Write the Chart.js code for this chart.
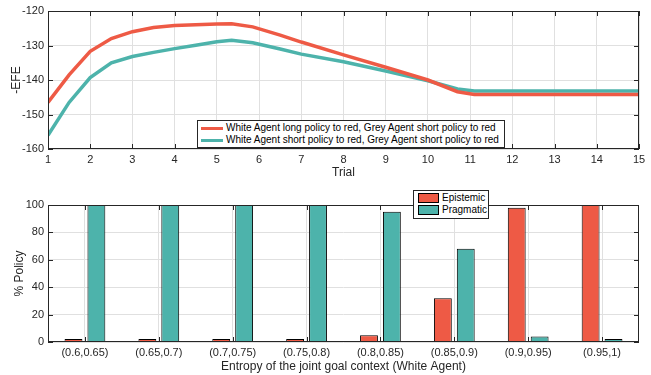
<!DOCTYPE html>
<html>
<head>
<meta charset="utf-8">
<script src="https://cdn.jsdelivr.net/npm/chart.js@4"></script>
<style>
  body { margin: 0; background: #fff; font-family: "Liberation Sans", Arial, sans-serif; }
  #wrap { position: relative; width: 651px; height: 375px; }
  #top { position: absolute; left: 0; top: 0; }
  #bottom { position: absolute; left: 0; top: 185px; }
  .legend { position: absolute; background: #fff; border: 1px solid #262626; font-size: 10px; color: #000; line-height: 12px; }
  .legend div { display: flex; align-items: center; white-space: nowrap; }
  .ln { display: inline-block; width: 22px; height: 3px; margin: 0 3px 0 3px; }
  .sw { display: inline-block; width: 19px; height: 8px; border: 1px solid #000; margin: 0 3px 0 4px; }
</style>
</head>
<body>
<div id="wrap">
  <div id="top"><canvas id="lineChart" width="651" height="185"></canvas></div>
  <div id="bottom"><canvas id="barChart" width="651" height="190"></canvas></div>
  <div class="legend" style="left:197px;top:120px;width:306px;height:25px;padding-top:1px;">
    <div><span class="ln" style="background:#ee5a45"></span>White Agent long policy to red, Grey Agent short policy to red</div>
    <div><span class="ln" style="background:#4db3ab"></span>White Agent short policy to red, Grey Agent short policy to red</div>
  </div>
  <div class="legend" style="left:413px;top:190px;width:74px;height:26px;padding-top:1px;">
    <div><span class="sw" style="background:#ee5a45"></span>Epistemic</div>
    <div><span class="sw" style="background:#4db3ab"></span>Pragmatic</div>
  </div>
</div>
<script>
// top chart data
const trials = [1, 1.5, 2, 2.5, 3, 3.5, 4, 4.5, 5, 5.35, 5.85, 6.5, 7, 8, 9, 10, 10.7, 11.1, 15];
const longPolicy = [-146.5, -138.5, -131.7, -128, -126, -124.8, -124.2, -124, -123.8, -123.7, -124.6, -127, -129, -132.7, -136.3, -140, -143.4, -144.2, -144.2];
const shortPolicy = [-156, -146.5, -139.3, -135, -133.2, -132, -130.9, -129.9, -128.9, -128.5, -129.2, -131, -132.5, -134.7, -137.4, -140.2, -142.6, -143.2, -143.2];

// bottom chart data
const entropyBins = ["(0.6,0.65)", "(0.65,0.7)", "(0.7,0.75)", "(0.75,0.8)", "(0.8,0.85)", "(0.85,0.9)", "(0.9,0.95)", "(0.95,1)"];
const epistemic = [0.6, 0.6, 0.6, 0.6, 5, 32, 98, 100];
const pragmatic = [100, 100, 100, 100, 95, 68, 4, 0.8];

const RED = "#ee5a45";
const TEAL = "#4db3ab";
const AXIS = "#262626";
const GRID = "#e0e0e0";
const font = { family: "'Liberation Sans', Arial, sans-serif", size: 11 };

// MATLAB style box with inward ticks
const boxTicks = {
    id: "boxTicks",
    afterDatasetsDraw(chart) {
        const { ctx, chartArea: a, scales } = chart;
        ctx.save();
        ctx.strokeStyle = AXIS;
        ctx.lineWidth = 1;
        ctx.strokeRect(a.left + 0.5, a.top + 0.5, a.right - a.left - 1, a.bottom - a.top - 1);
        const len = 5;
        scales.x.ticks.forEach((t, i) => {
            const px = Math.round(scales.x.getPixelForTick(i)) + 0.5;
            ctx.beginPath();
            ctx.moveTo(px, a.bottom); ctx.lineTo(px, a.bottom - len);
            ctx.moveTo(px, a.top); ctx.lineTo(px, a.top + len);
            ctx.stroke();
        });
        scales.y.ticks.forEach((t, i) => {
            const py = Math.round(scales.y.getPixelForTick(i)) + 0.5;
            ctx.beginPath();
            ctx.moveTo(a.left, py); ctx.lineTo(a.left + len, py);
            ctx.moveTo(a.right, py); ctx.lineTo(a.right - len, py);
            ctx.stroke();
        });
        ctx.restore();
    }
};

Chart.defaults.animation = false;
Chart.defaults.color = AXIS;

new Chart(document.getElementById("lineChart"), {
    type: "line",
    data: {
        datasets: [
            {
                label: "White Agent long policy to red, Grey Agent short policy to red",
                data: trials.map((t, i) => ({ x: t, y: longPolicy[i] })),
                borderColor: RED,
                borderWidth: 3.5,
                pointRadius: 0,
                tension: 0,
            },
            {
                label: "White Agent short policy to red, Grey Agent short policy to red",
                data: trials.map((t, i) => ({ x: t, y: shortPolicy[i] })),
                borderColor: TEAL,
                borderWidth: 3.5,
                pointRadius: 0,
                tension: 0,
            },
        ],
    },
    options: {
        responsive: false,
        layout: { padding: { left: 9, right: 12, top: 11, bottom: 0 } },
        plugins: { legend: { display: false }, tooltip: { enabled: false } },
        scales: {
            x: {
                type: "linear",
                min: 1,
                max: 15,
                ticks: { stepSize: 1, font, padding: 4, maxRotation: 0 },
                grid: { color: GRID, drawTicks: false },
                border: { display: false },
                title: { display: true, text: "Trial", font: { ...font, size: 12 }, padding: { top: 0, bottom: 5 } },
                afterFit: s => { s.height = 36; },
            },
            y: {
                min: -160,
                max: -120,
                ticks: { stepSize: 10, font, padding: 4 },
                grid: { color: GRID, drawTicks: false },
                border: { display: false },
                title: { display: true, text: "-EFE", font: { ...font, size: 12 }, padding: 0 },
                afterFit: s => { s.width = 39; },
            },
        },
    },
    plugins: [boxTicks],
});

new Chart(document.getElementById("barChart"), {
    type: "bar",
    data: {
        labels: entropyBins,
        datasets: [
            { label: "Epistemic", data: epistemic, backgroundColor: RED, borderColor: "#000", borderWidth: 1, minBarLength: 3 },
            { label: "Pragmatic", data: pragmatic, backgroundColor: TEAL, borderColor: "#000", borderWidth: 1, minBarLength: 3 },
        ],
    },
    options: {
        responsive: false,
        layout: { padding: { left: 12, right: 12, top: 20, bottom: 0 } },
        datasets: { bar: { categoryPercentage: 0.62, barPercentage: 0.78 } },
        plugins: { legend: { display: false }, tooltip: { enabled: false } },
        scales: {
            x: {
                ticks: { font, padding: 4, maxRotation: 0, autoSkip: false },
                grid: { color: GRID, drawTicks: false, offset: false },
                border: { display: false },
                title: { display: true, text: "Entropy of the joint goal context (White Agent)", font: { ...font, size: 12 }, padding: { top: 0, bottom: 1 } },
                afterFit: s => { s.height = 33; },
            },
            y: {
                min: 0,
                max: 100,
                ticks: { stepSize: 20, font, padding: 4 },
                grid: { color: GRID, drawTicks: false },
                border: { display: false },
                title: { display: true, text: "% Policy", font: { ...font, size: 12 }, padding: 0 },
                afterFit: s => { s.width = 36; },
            },
        },
    },
    plugins: [boxTicks],
});
</script>
</body>
</html>
